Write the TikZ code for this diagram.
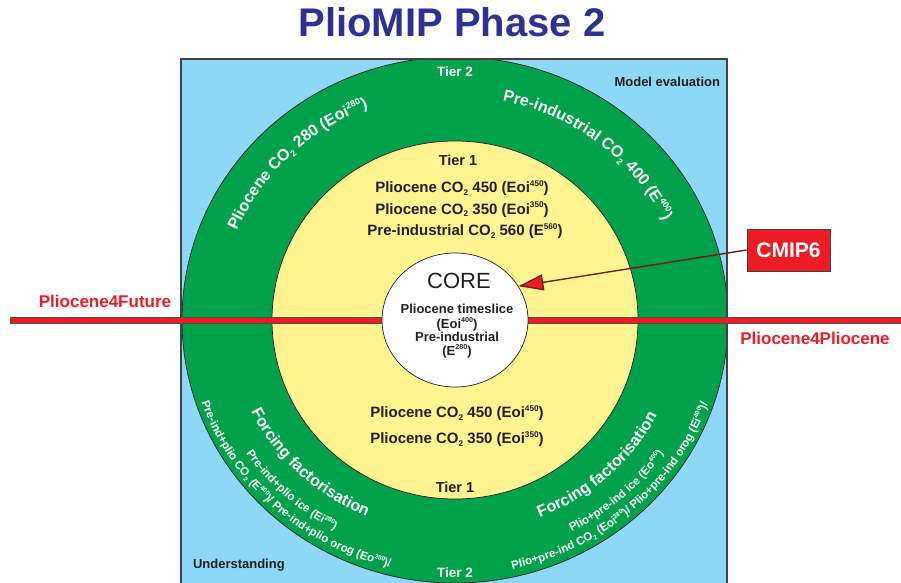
\documentclass[tikz,border=0pt]{standalone}
\usepackage{fontspec}
\setmainfont{Liberation Sans}
\usetikzlibrary{decorations.text,arrows.meta,shapes.geometric}
\definecolor{sky}{HTML}{8DD7F7}
\definecolor{grn}{HTML}{00A14B}
\definecolor{ylw}{HTML}{FFF48F}
\definecolor{rd}{HTML}{ED1C24}
\definecolor{ttl}{HTML}{2E3192}
\definecolor{ink}{HTML}{231F20}
\definecolor{arrowln}{HTML}{6E1E1E}
\newcommand\fs[1]{\fontsize{#1}{#1}\selectfont}
\makeatletter
\newcommand\Sup[1]{\raisebox{0.4em}{\fontsize{\fpeval{0.55*\f@size}}{1}\selectfont #1}}
\newcommand\Sub[1]{\raisebox{-0.2em}{\fontsize{\fpeval{0.55*\f@size}}{1}\selectfont #1}}
\makeatother
\begin{document}
\begin{tikzpicture}[x=1pt,y=1pt,
  txt/.style={inner sep=0,outer sep=0,text=ink,font=\bfseries\fs{#1}},
  wtxt/.style={inner sep=0,outer sep=0,text=white,font=\bfseries\fs{#1}},
  rtxt/.style={inner sep=0,outer sep=0,text=rd,font=\bfseries\fs{#1}},
  ring/.style={ellipse,inner sep=0,draw=ink,line width=0.7},
  arcw/.style={decorate,decoration={text along path,text align=center,text color=white,text={#1}}}]
\useasboundingbox (0,0) rectangle (901,582);
\clip (0,0) rectangle (901,582);
% square
\fill[sky] (181,-23) rectangle (727,523);
\begin{scope}
\clip (181,-23) rectangle (727,523);
\node[ring,fill=grn,minimum width=546,minimum height=526] (tiertwo) at (455,262) {};
\end{scope}
\draw[draw=ink!85,line width=1.6] (181,-23) rectangle (727,523);
\node[ring,fill=ylw,minimum width=366,minimum height=358] (tierone) at (455,262) {};
% red horizontal bar
\fill[rd,draw=ink!80,line width=0.6] (10,259) rectangle (901,265);
% core
\node[ring,fill=white,minimum width=146,minimum height=134] (core) at (455,262) {};
% title
\node[inner sep=0,text=ttl,font=\bfseries\fs{40},anchor=base] (title) at (452,545) {PlioMIP Phase 2};
% corner labels
\node[txt=13,anchor=base east] (modeval) at (720,495) {Model evaluation};
\node[txt=13,anchor=base west] (underst) at (193,14) {Understanding};
\node[wtxt=13.5,anchor=base] (ttwotop) at (455,505) {Tier 2};
\node[wtxt=13.5,anchor=base] (ttwobot) at (455,5) {Tier 2};
% tier 1 texts
\node[txt=14.5,anchor=base] (tonetop) at (458,417) {Tier 1};
\node[txt=15,anchor=base] (la) at (462,389) {Pliocene CO\Sub{2} 450 (Eoi\Sup{450})};
\node[txt=15,anchor=base] (lb) at (462,368) {Pliocene CO\Sub{2} 350 (Eoi\Sup{350})};
\node[txt=15,anchor=base] (lc) at (465,347) {Pre-industrial CO\Sub{2} 560 (E\Sup{560})};
\node[txt=15,anchor=base] (ld) at (457,165) {Pliocene CO\Sub{2} 450 (Eoi\Sup{450})};
\node[txt=15,anchor=base] (le) at (457,139) {Pliocene CO\Sub{2} 350 (Eoi\Sup{350})};
\node[txt=14.5,anchor=base] (tonebot) at (455,90) {Tier 1};
% core texts
\node[inner sep=0,text=ink,font=\fs{22},anchor=base] (coret) at (459,294) {CORE};
\node[txt=13,anchor=base] (ca) at (457,269) {Pliocene timeslice};
\node[txt=13,anchor=base] (cb) at (457,254) {(Eoi\Sup{400})};
\node[txt=13,anchor=base] (cc) at (457,241) {Pre-industrial};
\node[txt=13,anchor=base] (cd) at (457,227) {(E\Sup{280})};
% side labels
\node[rtxt=17,anchor=base] (pfut) at (105,275) {Pliocene4Future};
\node[rtxt=17,anchor=base] (pplio) at (815,238) {Pliocene4Pliocene};
% CMIP6
\node[draw=ink!85,line width=0.9,fill=rd,minimum width=83,minimum height=42,inner sep=0,text=white,font=\bfseries\fs{21}] (cmip) at (788.5,332) {CMIP6};
\draw[arrowln,line width=1.4,-{Triangle[length=25pt,width=16pt,fill=rd]}] (cmip.west) -- (core.28);
% arc texts: top-left
\path[arcw={|\bfseries\fs{16}|Pliocene CO{\Sub{2}} 280 (Eoi{\Sup{280}})}]
  (455,262) ++(205:237 and 228) arc[start angle=205,end angle=65,x radius=237,y radius=228];
% top-right
\path[arcw={|\bfseries\fs{16}|Pre-industrial CO{\Sub{2}} 400 (E{\Sup{400}})}]
  (455,262) ++(121.5:233 and 224) arc[start angle=121.5,end angle=-18.5,x radius=233,y radius=224];
% bottom-left
\path[arcw={|\bfseries\fs{16}|Forcing factorisation}]
  (455,262) ++(155:226 and 213) arc[start angle=155,end angle=295,x radius=226,y radius=213];
\path[arcw={|\bfseries\fs{11.5}|Pre-ind+plio ice (Ei{\Sup{280}})}]
  (455,262) ++(156.5:252 and 239) arc[start angle=156.5,end angle=296.5,x radius=252,y radius=239];
\path[arcw={|\bfseries\fs{11.5}|Pre-ind+plio CO{\Sub{2}} (E{\Sup{400}})/ Pre-ind+plio orog (Eo{\Sup{280}})/}]
  (455,262) ++(156.5:268 and 255) arc[start angle=156.5,end angle=296.5,x radius=268,y radius=255];
% bottom-right
\path[arcw={|\bfseries\fs{16}|Forcing factorisation}]
  (455,262) ++(244:226 and 213) arc[start angle=244,end angle=384,x radius=226,y radius=213];
\path[arcw={|\bfseries\fs{11.5}|Plio+pre-ind ice (Eo{\Sup{400}})}]
  (455,262) ++(243:252 and 239) arc[start angle=243,end angle=383,x radius=252,y radius=239];
\path[arcw={|\bfseries\fs{11.5}|Plio+pre-ind CO{\Sub{2}} (Eoi{\Sup{280}})/ Plio+pre-ind orog (Ei{\Sup{400}})/}]
  (455,262) ++(242.5:268 and 255) arc[start angle=242.5,end angle=382.5,x radius=268,y radius=255];
\end{tikzpicture}
\end{document}
